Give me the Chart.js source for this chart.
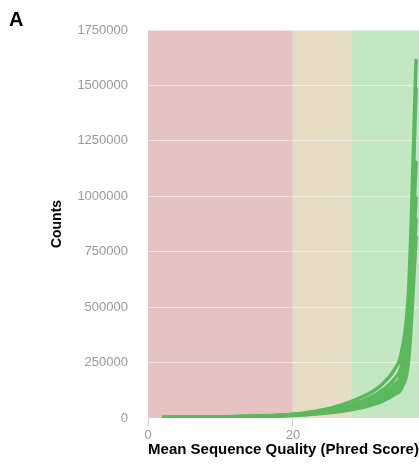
<!DOCTYPE html>
<html>
<head>
<meta charset="utf-8">
<script src="https://cdn.jsdelivr.net/npm/chart.js@4"></script>
<style>
  html, body { margin: 0; padding: 0; background: #fff; }
  #wrap { position: relative; width: 419px; height: 470px; }
  #panel { position: absolute; left: 9px; top: 8px; font: bold 20px "Liberation Sans", Arial, sans-serif; color: #000; }
  canvas { position: absolute; left: 0; top: 0; }
</style>
</head>
<body>
<div id="wrap">
  <canvas id="chart" width="419" height="470"></canvas>
  <div id="panel">A</div>
</div>
<script>
// phred scores on the x axis
const scores = [2,3,4,5,6,7,8,9,10,11,12,13,14,15,16,17,18,19,20,21,22,23,24,25,26,27,28,29,30,31,32,33,34,35,36,37];

// read counts per sample (one value per score above)
const sample1 = [3000,3200,3400,3700,4000,4300,4700,5100,5600,6100,6700,7400,8200,9100,10200,11500,13000,15000,17500,20500,24500,30000,36000,43000,52000,62000,74000,87000,102000,120000,143000,175000,218000,300000,600000,1620000];
const sample2 = [2800,3000,3200,3400,3700,4000,4300,4700,5100,5600,6100,6700,7400,8200,9200,10400,11800,13500,15500,18000,21000,24500,29000,34500,41000,49000,59000,70000,83000,98000,117000,142000,176000,240000,500000,1490000];
const sample3 = [2800,3000,3200,3400,3700,4000,4300,4700,5100,5600,6100,6700,7400,8200,9200,10300,11700,13300,15300,17800,20500,23500,27000,31500,37000,44000,52000,61000,72000,85000,101000,122000,150000,200000,420000,1160000];
const sample4 = [2600,2800,3000,3200,3400,3700,4000,4300,4700,5100,5600,6100,6700,7400,8300,9300,10500,12000,13800,16000,18500,21300,24500,28500,33500,39500,46500,55000,65000,77000,91000,110000,135000,175000,360000,1000000];
const sample5 = [2400,2600,2800,3000,3200,3400,3700,4000,4300,4700,5100,5600,6100,6800,7600,8500,9600,11000,12600,14600,17000,19600,22600,26200,30500,35500,41500,49000,58000,69000,82000,99000,122000,155000,310000,900000];
const sample6 = [2300,2400,2600,2800,3000,3200,3400,3700,4000,4300,4700,5100,5600,6200,6900,7700,8700,9900,11300,13000,15200,17500,20200,23400,27200,31800,37000,43500,51000,60000,71000,86000,106000,135000,270000,820000];

// quality zones: [from, to]
const zoneBounds = [[0, 20], [20, 28], [28, 40]];
const zoneColors = ['#e6c3c3', '#e6dcc3', '#c3e6c3'];

const yTicks = [0, 250000, 500000, 750000, 1000000, 1250000, 1500000, 1750000];
const xTicks = [0, 20];

const samples = [sample1, sample2, sample3, sample4, sample5, sample6];

// zone background under the grid
const zonePlugin = {
  id: 'zones',
  beforeDraw(chart) {
    const { ctx, chartArea, scales } = chart;
    ctx.save();
    zoneBounds.forEach(([a, b], i) => {
      const x1 = Math.max(scales.x.getPixelForValue(a), chartArea.left);
      const x2 = Math.min(scales.x.getPixelForValue(b), chartArea.right);
      ctx.fillStyle = zoneColors[i];
      ctx.fillRect(x1, chartArea.top, x2 - x1, chartArea.bottom - chartArea.top);
    });
    ctx.restore();
  }
};

new Chart(document.getElementById('chart'), {
  type: 'line',
  data: {
    datasets: samples.map((s) => ({
      data: scores.map((x, i) => ({ x: x, y: s[i] })),
      borderColor: '#5cb85c',
      borderWidth: 3.5,
      pointRadius: 0,
      cubicInterpolationMode: 'monotone',
      fill: false
    }))
  },
  options: {
    responsive: false,
    animation: false,
    layout: { padding: { top: 30, right: 0, left: 0, bottom: 0 } },
    plugins: { legend: { display: false }, tooltip: { enabled: false } },
    scales: {
      x: {
        type: 'linear',
        min: 0,
        max: 37.4,
        afterBuildTicks(scale) { scale.ticks = xTicks.map((v) => ({ value: v })); },
        afterFit(scale) { scale.height = 52; },
        border: { display: false },
        grid: { drawOnChartArea: false, color: '#cccccc', tickLength: 8 },
        ticks: { color: '#999', padding: 2, font: { family: 'Liberation Sans', size: 13 } },
        title: {
          display: true,
          text: 'Mean Sequence Quality (Phred Score)',
          color: '#000',
          padding: { top: 0, bottom: 11 },
          font: { family: 'Liberation Sans', size: 15, weight: 'bold' }
        }
      },
      y: {
        min: 0,
        max: 1750000,
        afterBuildTicks(scale) { scale.ticks = yTicks.map((v) => ({ value: v })); },
        afterFit(scale) { scale.width = 148; },
        border: { display: false },
        grid: { color: 'rgba(255,255,255,0.55)', drawTicks: false },
        ticks: { color: '#999', padding: 20, font: { family: 'Liberation Sans', size: 13 }, callback: (v) => String(v) },
        title: {
          display: true,
          text: 'Counts',
          color: '#000',
          padding: { top: 49, bottom: 0 },
          font: { family: 'Liberation Sans', size: 14, weight: 'bold' }
        }
      }
    }
  },
  plugins: [zonePlugin]
});
</script>
</body>
</html>
